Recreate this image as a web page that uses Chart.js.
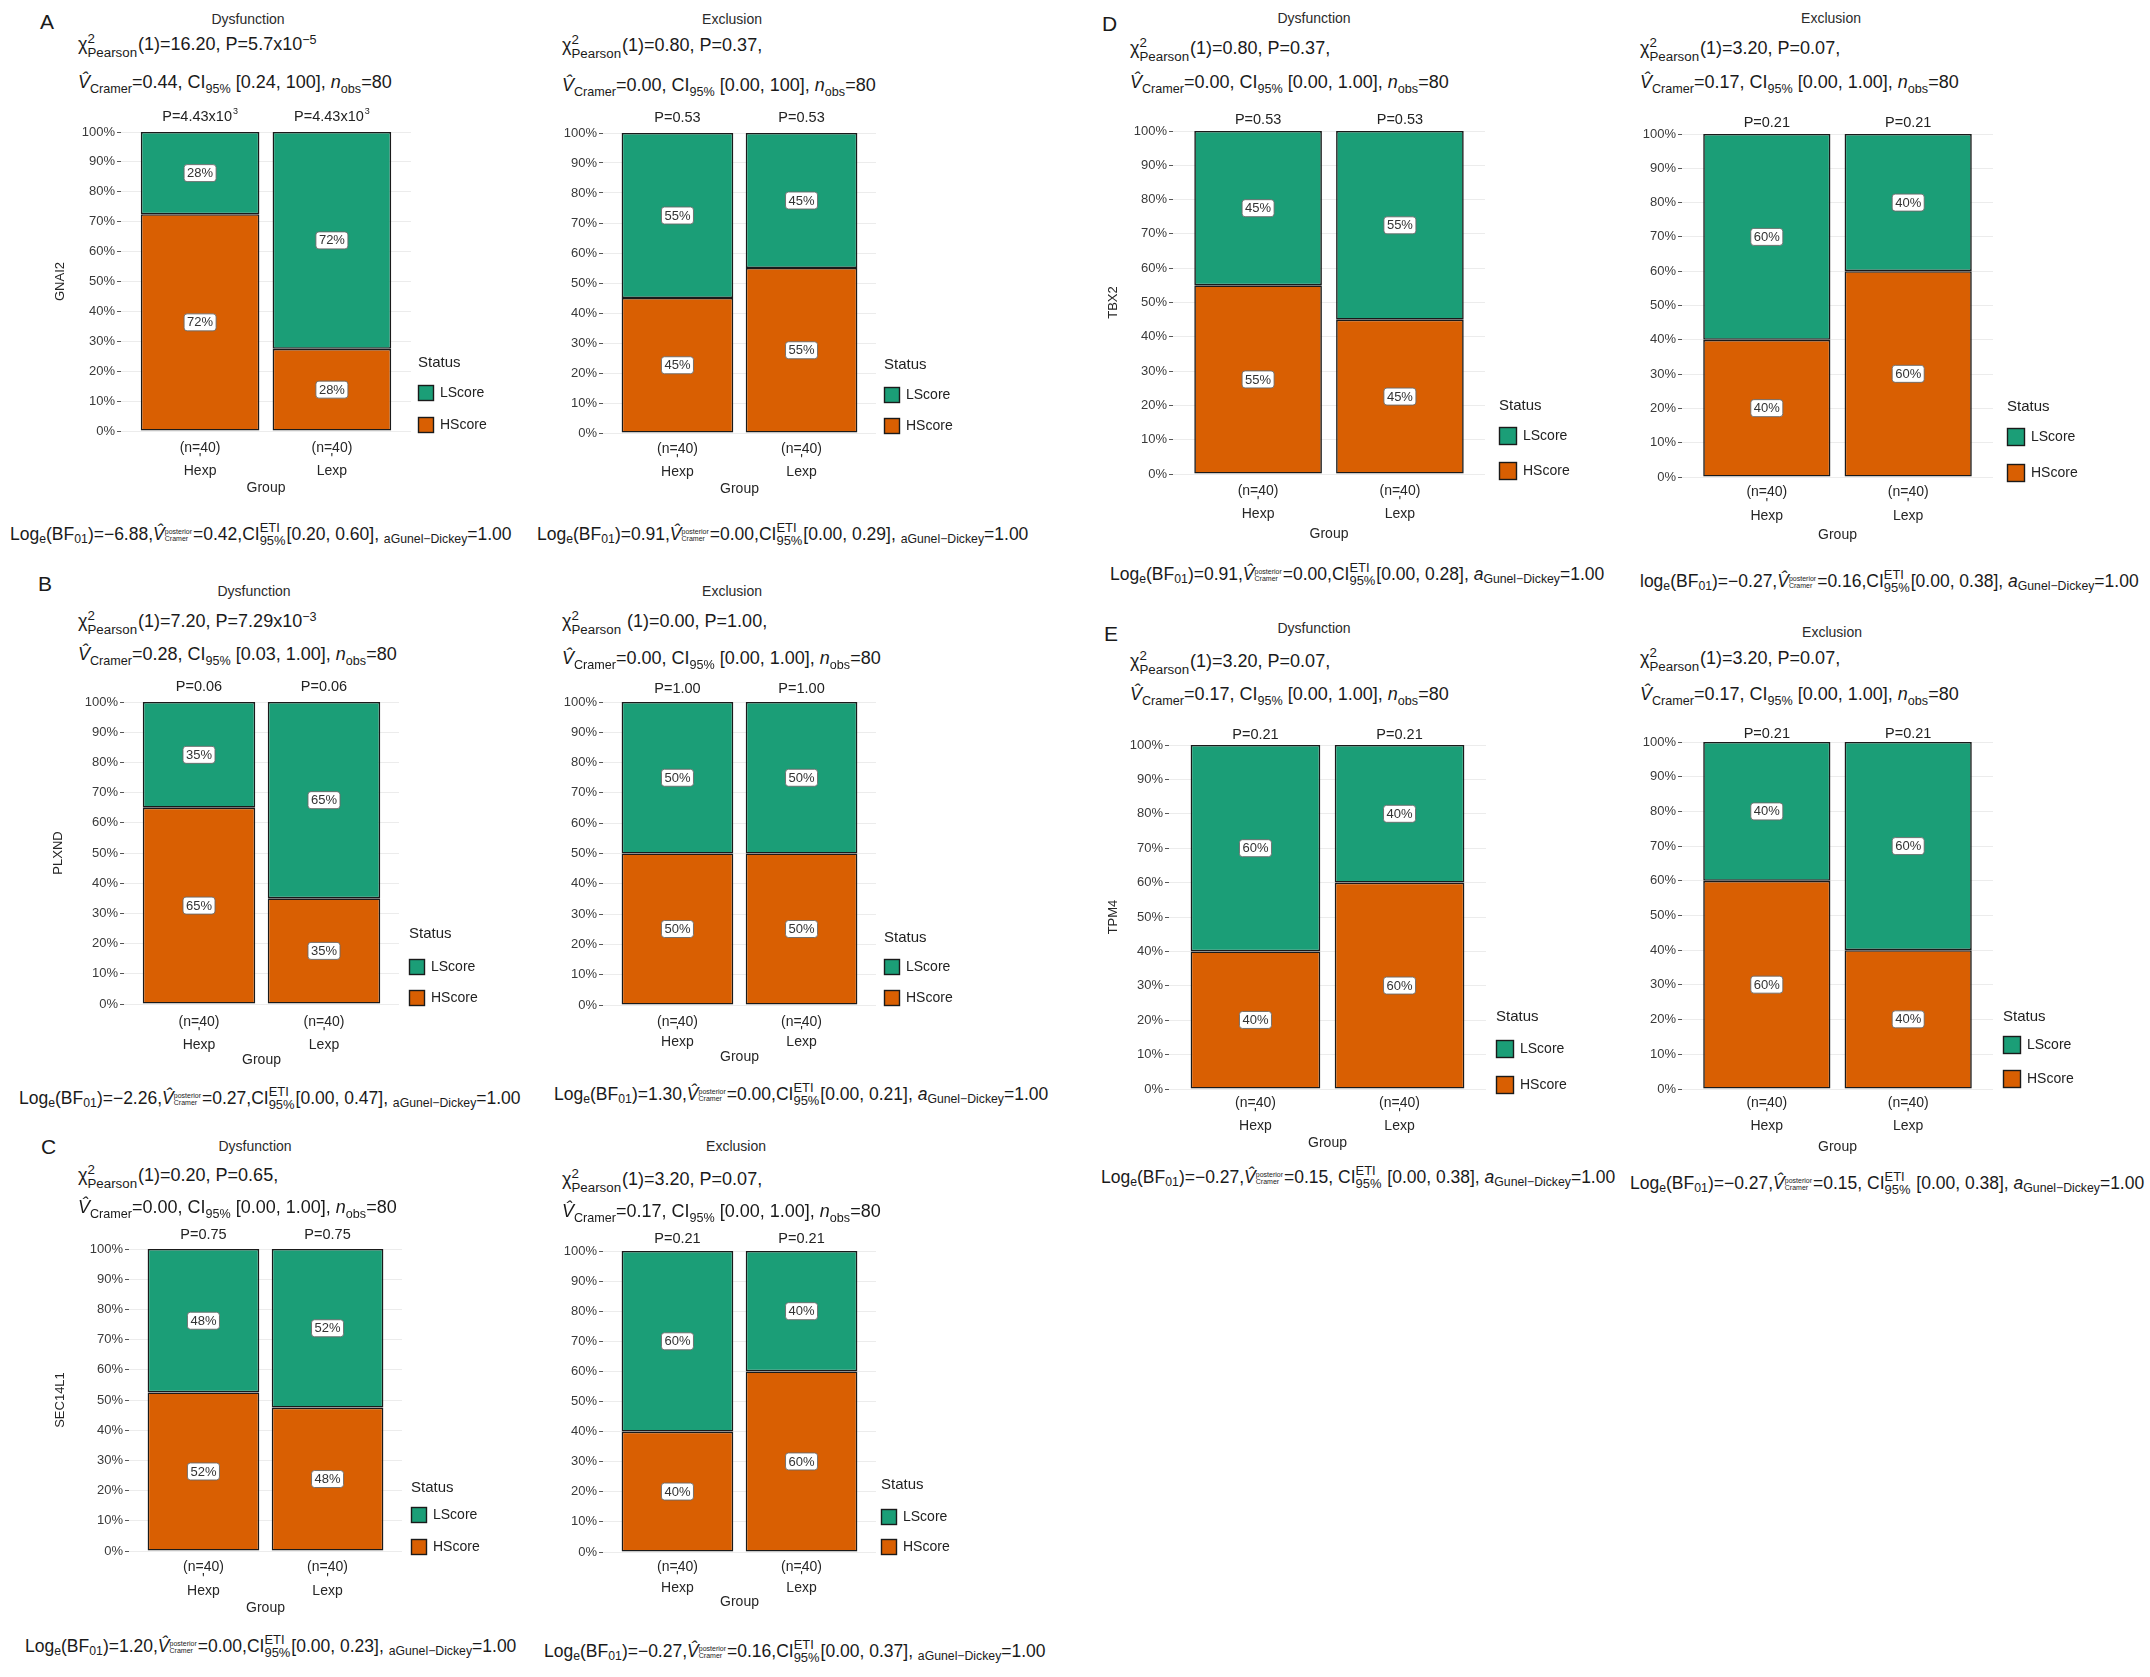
<!DOCTYPE html>
<html><head><meta charset="utf-8">
<script src="https://cdn.jsdelivr.net/npm/chart.js@4.4.1/dist/chart.umd.min.js"></script>
<style>
html,body{margin:0;padding:0;background:#fff}
#page{position:relative;width:2150px;height:1677px;overflow:hidden;font-family:"Liberation Sans",Arial,Helvetica,sans-serif;color:#1a1a1a}
.t{position:absolute;white-space:nowrap;line-height:1.1}
.bl{display:inline-block;width:0;height:0}
.letter{font-size:21px}
.ttl{font-size:14px;color:#2a2a2a}
.stat{font-size:18px}
.logl{font-size:17.5px}
sub,sup{font-size:70%;line-height:0;position:relative;vertical-align:baseline}
sub{top:0.32em}
sup{top:-0.5em}
.st{display:inline-flex;flex-direction:column;vertical-align:middle;font-size:74%;line-height:1.0;margin-right:1px}
.st.tiny{font-size:40%}
canvas{position:absolute}
</style></head><body><div id="page"></div>
<script>
// ---------------- data ----------------
const groups = ["Hexp", "Lexp"];
const groupCounts = [40, 40];
const statusNames = ["HScore", "LScore"];
const statusColors = ["#d95f02", "#1b9e77"];
const yTickStep = 10;

const gnai2DysHScore = [72.5, 27.5];
const gnai2DysLScore = [27.5, 72.5];
const gnai2DysP = ["4.43x10^3", "4.43x10^3"];
const gnai2ExcHScore = [45, 55];
const gnai2ExcLScore = [55, 45];
const gnai2ExcP = ["0.53", "0.53"];

const plxndDysHScore = [65, 35];
const plxndDysLScore = [35, 65];
const plxndDysP = ["0.06", "0.06"];
const plxndExcHScore = [50, 50];
const plxndExcLScore = [50, 50];
const plxndExcP = ["1.00", "1.00"];

const sec14l1DysHScore = [52.5, 47.5];
const sec14l1DysLScore = [47.5, 52.5];
const sec14l1DysP = ["0.75", "0.75"];
const sec14l1ExcHScore = [40, 60];
const sec14l1ExcLScore = [60, 40];
const sec14l1ExcP = ["0.21", "0.21"];

const tbx2DysHScore = [55, 45];
const tbx2DysLScore = [45, 55];
const tbx2DysP = ["0.53", "0.53"];
const tbx2ExcHScore = [40, 60];
const tbx2ExcLScore = [60, 40];
const tbx2ExcP = ["0.21", "0.21"];

const tpm4DysHScore = [40, 60];
const tpm4DysLScore = [60, 40];
const tpm4DysP = ["0.21", "0.21"];
const tpm4ExcHScore = [60, 40];
const tpm4ExcLScore = [40, 60];
const tpm4ExcP = ["0.21", "0.21"];

// ---------------- helpers ----------------
const FONT = '"Liberation Sans", Arial, Helvetica, sans-serif';
const page = document.getElementById('page');

function roundHalfEven(v){
  const f = Math.floor(v);
  if (Math.abs(v - f - 0.5) < 1e-9) return (f % 2 === 0) ? f : f + 1;
  return Math.round(v);
}

function place(html, x, y, cls, center){
  const d = document.createElement('div');
  d.className = 't ' + cls;
  d.innerHTML = '<span class="bl"></span>' + html;
  page.appendChild(d);
  d.style.left = x + 'px';
  d.style.top = '0px';
  const fs = parseFloat(getComputedStyle(d).fontSize);
  const bl = d.querySelector('.bl').getBoundingClientRect().bottom - d.getBoundingClientRect().top;
  d.style.top = (y + 0.36 * fs - bl) + 'px';
  if (center) d.style.transform = 'translateX(-50%)';
}

const S = (a, b, cls) => `<span class="st ${cls||''}"><span>${a}</span><span>${b}</span></span>`;
const Vh = '<i>V\u0302</i>';
const chiL = (sp, rest) => `χ${S('2','Pearson')}${sp}${rest}`;
const vL = (v, ci) => `${Vh}<sub>Cramer</sub>=${v}, CI<sub>95%</sub> [${ci}], <i>n</i><sub>obs</sub>=80`;
const logL = (lg, bf, v, sep, ci, italicA) =>
  `${lg}<sub>e</sub>(BF<sub>01</sub>)=${bf},${Vh}${S('posterior','Cramer','tiny')}=${v},${sep}CI${S('ETI','95%')}${sep}[${ci}], ` +
  (italicA ? `<i>a</i><sub>Gunel\u2212Dickey</sub>=1.00` : `<sub>aGunel\u2212Dickey</sub>=1.00`);

// ---------------- plugins ----------------
const pctLabelPlugin = {
  id: 'pctLabels',
  afterDatasetsDraw(chart){
    const ctx = chart.ctx;
    ctx.save();
    ctx.font = '13px ' + FONT;
    ctx.textAlign = 'center';
    ctx.textBaseline = 'middle';
    chart.data.datasets.forEach((ds, di) => {
      const meta = chart.getDatasetMeta(di);
      meta.data.forEach((el, i) => {
        const txt = roundHalfEven(ds.data[i].y) + '%';
        const cx = el.x, cy = (el.y + el.base) / 2;
        const w = ctx.measureText(txt).width + 6, h = 17;
        ctx.beginPath();
        ctx.roundRect(cx - w/2, cy - h/2, w, h, 3);
        ctx.fillStyle = '#ffffff';
        ctx.fill();
        ctx.lineWidth = 0.9;
        ctx.strokeStyle = '#6a6a6a';
        ctx.stroke();
        ctx.fillStyle = '#333333';
        ctx.fillText(txt, cx, cy + 0.5);
      });
    });
    ctx.restore();
  }
};

const pLabelPlugin = {
  id: 'pLabels',
  afterDraw(chart, args, o){
    const ctx = chart.ctx, xs = chart.scales.x;
    ctx.save();
    ctx.fillStyle = '#222';
    ctx.textBaseline = 'middle';
    ctx.textAlign = 'left';
    o.texts.forEach((t, i) => {
      const cx = xs.getPixelForValue(i + 1);
      const y = chart.chartArea.top - o.dy;
      const parts = t.split('^');
      const base = 'P=' + parts[0];
      ctx.font = '14.5px ' + FONT;
      const w1 = ctx.measureText(base).width;
      let w2 = 0;
      if (parts[1]) { ctx.font = '9px ' + FONT; w2 = ctx.measureText(parts[1]).width + 1; }
      const x0 = cx - (w1 + w2) / 2;
      ctx.font = '14.5px ' + FONT;
      ctx.fillText(base, x0, y);
      if (parts[1]) { ctx.font = '9px ' + FONT; ctx.fillText(parts[1], x0 + w1 + 1, y - 5); }
    });
    ctx.restore();
  }
};

const sideLegendPlugin = {
  id: 'sideLegend',
  afterDraw(chart, args, o){
    const ctx = chart.ctx, a = chart.chartArea;
    const x = a.right + o.dx;
    ctx.save();
    ctx.textBaseline = 'middle';
    ctx.textAlign = 'left';
    ctx.fillStyle = '#222';
    ctx.font = '15px ' + FONT;
    ctx.fillText('Status', x, a.bottom + o.s);
    const order = [1, 0];
    const ys = [o.l, o.h];
    order.forEach((di, k) => {
      const ds = chart.data.datasets[di];
      const cy = a.bottom + ys[k];
      ctx.fillStyle = ds.backgroundColor;
      ctx.fillRect(x, cy - o.box/2, o.box, o.box);
      ctx.lineWidth = 1.4;
      ctx.strokeStyle = '#1a1a1a';
      ctx.strokeRect(x + 0.5, cy - o.box/2 + 0.5, o.box - 1, o.box - 1);
      ctx.fillStyle = '#222';
      ctx.font = '14px ' + FONT;
      ctx.fillText(ds.label, x + o.box + 6, cy);
    });
    ctx.restore();
  }
};

// ---------------- panels ----------------
function makeChart(p){
  const [x0, x1, y0, y1] = p.area;
  const Yw = p.gene ? (x0 - (p.ytx - 8)) : 60;
  const padTop = 32, padRight = 130;
  const Xh = p.xl[2] + 8;
  const W = (x1 - x0) + Yw + padRight, Hh = (y1 - y0) + padTop + Xh;
  const c = document.createElement('canvas');
  c.width = W; c.height = Hh;
  c.style.left = (x0 - Yw) + 'px'; c.style.top = (y0 - padTop) + 'px';
  c.style.width = W + 'px'; c.style.height = Hh + 'px';
  page.appendChild(c);
  const lineH = (p.xl[1] - p.xl[0]) / 2;
  const mk = (arr) => groups.map((g, i) => ({x: i + 1, y: arr[i]}));
  new Chart(c, {
    type: 'bar',
    data: {
      datasets: [
        {label: statusNames[0], data: mk(p.H), backgroundColor: statusColors[0], borderColor: '#1a1a1a', borderWidth: 1.6, borderSkipped: false, categoryPercentage: 1, barPercentage: 0.9},
        {label: statusNames[1], data: mk(p.L), backgroundColor: statusColors[1], borderColor: '#1a1a1a', borderWidth: 1.6, borderSkipped: false, categoryPercentage: 1, barPercentage: 0.9}
      ]
    },
    options: {
      responsive: false, animation: false,
      layout: {padding: {top: padTop, right: padRight, left: 0, bottom: 0}},
      plugins: {
        legend: {display: false}, tooltip: {enabled: false},
        pLabels: {texts: p.P, dy: p.pdy},
        sideLegend: {dx: p.leg[0], s: p.leg[1], l: p.leg[2], h: p.leg[3], box: p.leg[4]}
      },
      scales: {
        x: {
          type: 'linear', min: 0.4, max: 2.6, offset: false, stacked: true,
          grid: {display: false, drawTicks: false, offset: false}, border: {display: false},
          afterBuildTicks: (s) => { s.ticks = groups.map((g, i) => ({value: i + 1})); },
          ticks: {autoSkip: false, maxRotation: 0, padding: p.xl[0] - lineH / 2, color: '#262626',
                  font: {size: 14, family: FONT, lineHeight: lineH + 'px'},
                  callback: (v) => { const i = Math.round(v) - 1; return ['(n=' + groupCounts[i] + ')', "'", groups[i]]; }},
          title: {display: true, text: 'Group', color: '#262626', padding: 0, font: {size: 14, family: FONT, lineHeight: '16px'}},
          afterFit: (s) => { s.height = Xh; }
        },
        y: {
          stacked: true, min: 0, max: 100,
          ticks: {stepSize: yTickStep, callback: (v) => v + '%', color: '#3a3a3a', padding: 2, font: {size: 13, family: FONT}},
          grid: {color: '#ececec', tickColor: '#555', tickLength: 4, lineWidth: 1},
          border: {display: false},
          title: {display: !!p.gene, text: p.gene || '', color: '#262626', padding: 0, font: {size: 13, family: FONT, lineHeight: '16px'}},
          afterFit: (s) => { s.width = Yw; }
        }
      }
    },
    plugins: [pctLabelPlugin, pLabelPlugin, sideLegendPlugin]
  });
}

const panels = [
  {H: gnai2DysHScore, L: gnai2DysLScore, P: gnai2DysP, gene: 'GNAI2', area: [121, 411, 132, 431], ytx: 60, leg: [7, -68, -38, -6, 16], pdy: 15, xl: [17, 40, 57]},
  {H: gnai2ExcHScore, L: gnai2ExcLScore, P: gnai2ExcP, gene: null, area: [603, 876, 133, 433], leg: [8, -68, -38, -7, 16], pdy: 15, xl: [16, 39, 56]},
  {H: plxndDysHScore, L: plxndDysLScore, P: plxndDysP, gene: 'PLXND', area: [124, 399, 702, 1004], ytx: 58, leg: [10, -70, -37, -6, 16], pdy: 15, xl: [18, 41, 56]},
  {H: plxndExcHScore, L: plxndExcLScore, P: plxndExcP, gene: null, area: [603, 876, 702, 1005], leg: [8, -67, -38, -7, 16], pdy: 13, xl: [17, 37, 52]},
  {H: sec14l1DysHScore, L: sec14l1DysLScore, P: sec14l1DysP, gene: 'SEC14L1', area: [129, 402, 1249, 1551], ytx: 60, leg: [9, -63, -36, -4, 16], pdy: 14, xl: [16, 40, 57]},
  {H: sec14l1ExcHScore, L: sec14l1ExcLScore, P: sec14l1ExcP, gene: null, area: [603, 876, 1251, 1552], leg: [5, -67, -35, -5, 16], pdy: 12, xl: [15, 36, 50]},
  {H: tbx2DysHScore, L: tbx2DysLScore, P: tbx2DysP, gene: 'TBX2', area: [1173, 1485, 131, 474], ytx: 1113, leg: [14, -68, -38, -3, 18], pdy: 11, xl: [17, 40, 60]},
  {H: tbx2ExcHScore, L: tbx2ExcLScore, P: tbx2ExcP, gene: null, area: [1682, 1993, 134, 477], leg: [14, -70, -40, -4, 18], pdy: 11, xl: [15, 39, 58]},
  {H: tpm4DysHScore, L: tpm4DysLScore, P: tpm4DysP, gene: 'TPM4', area: [1169, 1486, 745, 1089], ytx: 1113, leg: [10, -72, -40, -4, 18], pdy: 10, xl: [14, 37, 54]},
  {H: tpm4ExcHScore, L: tpm4ExcLScore, P: tpm4ExcP, gene: null, area: [1682, 1993, 742, 1089], leg: [10, -72, -44, -10, 18], pdy: 8, xl: [14, 37, 58]}
];
panels.forEach(makeChart);

// ---------------- text annotations ----------------
const texts = [
  ['A', 40, 21, 'letter', false],
  ['Dysfunction', 248, 19, 'ttl', true],
  [chiL('', '(1)=16.20, P=5.7x10<sup>\u22125</sup>'), 78, 44, 'stat', false],
  [vL('0.44', '0.24, 100'), 78, 82, 'stat', false],
  [logL('Log', '\u22126.88', '0.42', '', '0.20, 0.60', false), 10, 533, 'logl', false],

  ['Exclusion', 732, 19, 'ttl', true],
  [chiL('', '(1)=0.80, P=0.37,'), 562, 45, 'stat', false],
  [vL('0.00', '0.00, 100'), 562, 85, 'stat', false],
  [logL('Log', '0.91', '0.00', '', '0.00, 0.29', false), 537, 533, 'logl', false],

  ['B', 38, 583, 'letter', false],
  ['Dysfunction', 254, 591, 'ttl', true],
  [chiL('', '(1)=7.20, P=7.29x10<sup>\u22123</sup>'), 78, 621, 'stat', false],
  [vL('0.28', '0.03, 1.00'), 78, 654, 'stat', false],
  [logL('Log', '\u22122.26', '0.27', '', '0.00, 0.47', false), 19, 1097, 'logl', false],

  ['Exclusion', 732, 591, 'ttl', true],
  [chiL(' ', '(1)=0.00, P=1.00,'), 562, 621, 'stat', false],
  [vL('0.00', '0.00, 1.00'), 562, 658, 'stat', false],
  [logL('Log', '1.30', '0.00', '', '0.00, 0.21', true), 554, 1093, 'logl', false],

  ['C', 41, 1146, 'letter', false],
  ['Dysfunction', 255, 1146, 'ttl', true],
  [chiL('', '(1)=0.20, P=0.65,'), 78, 1175, 'stat', false],
  [vL('0.00', '0.00, 1.00'), 78, 1207, 'stat', false],
  [logL('Log', '1.20', '0.00', '', '0.00, 0.23', false), 25, 1645, 'logl', false],

  ['Exclusion', 736, 1146, 'ttl', true],
  [chiL('', '(1)=3.20, P=0.07,'), 562, 1179, 'stat', false],
  [vL('0.17', '0.00, 1.00'), 562, 1211, 'stat', false],
  [logL('Log', '\u22120.27', '0.16', '', '0.00, 0.37', false), 544, 1650, 'logl', false],

  ['D', 1102, 23, 'letter', false],
  ['Dysfunction', 1314, 18, 'ttl', true],
  [chiL('', '(1)=0.80, P=0.37,'), 1130, 48, 'stat', false],
  [vL('0.00', '0.00, 1.00'), 1130, 82, 'stat', false],
  [logL('Log', '0.91', '0.00', '', '0.00, 0.28', true), 1110, 573, 'logl', false],

  ['Exclusion', 1831, 18, 'ttl', true],
  [chiL('', '(1)=3.20, P=0.07,'), 1640, 48, 'stat', false],
  [vL('0.17', '0.00, 1.00'), 1640, 82, 'stat', false],
  [logL('log', '\u22120.27', '0.16', '', '0.00, 0.38', true), 1640, 580, 'logl', false],

  ['E', 1104, 633, 'letter', false],
  ['Dysfunction', 1314, 628, 'ttl', true],
  [chiL('', '(1)=3.20, P=0.07,'), 1130, 661, 'stat', false],
  [vL('0.17', '0.00, 1.00'), 1130, 694, 'stat', false],
  [logL('Log', '\u22120.27', '0.15', ' ', '0.00, 0.38', true), 1101, 1176, 'logl', false],

  ['Exclusion', 1832, 632, 'ttl', true],
  [chiL('', '(1)=3.20, P=0.07,'), 1640, 658, 'stat', false],
  [vL('0.17', '0.00, 1.00'), 1640, 694, 'stat', false],
  [logL('Log', '\u22120.27', '0.15', ' ', '0.00, 0.38', true), 1630, 1182, 'logl', false]
];
texts.forEach(t => place(t[0], t[1], t[2], t[3], t[4]));
</script>
</body></html>
